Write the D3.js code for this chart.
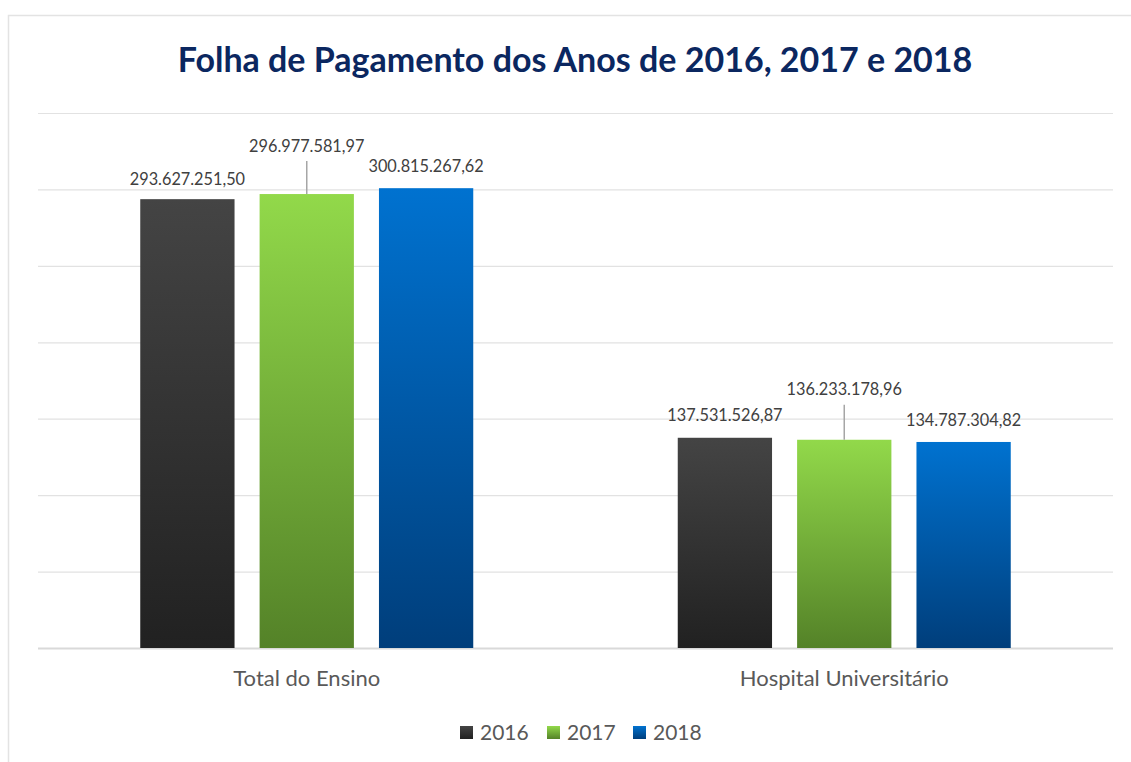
<!DOCTYPE html>
<html>
<head>
<meta charset="utf-8">
<script src="https://cdn.jsdelivr.net/npm/d3@7"></script>
<style>
  body { margin: 0; background: #fff; }
  svg { display: block; font-family: Lato, "Noto Sans", sans-serif; }
</style>
</head>
<body>
<div id="chart"></div>
<script>
const categories = ['Total do Ensino', 'Hospital Universitário'];
const years = ['2016', '2017', '2018'];
const values2016 = [293627251.50, 137531526.87];
const values2017 = [296977581.97, 136233178.96];
const values2018 = [300815267.62, 134787304.82];
const yTicks = [0, 50e6, 100e6, 150e6, 200e6, 250e6, 300e6, 350e6];
// label placement offsets (px above bar top); 2017 labels pulled up with a leader line
const labelLift = [[20, 48, 22], [22, 50, 22]];

const seriesValues = [values2016, values2017, values2018];
const colors = [
  { top: '#444444', bottom: '#212121' },
  { top: '#92d94a', bottom: '#548228' },
  { top: '#0072d0', bottom: '#003e7b' },
];

const width = 1131;
const height = 762;
const margin = { top: 113, right: 18, bottom: 114, left: 38 };
const innerW = width - margin.left - margin.right;
const innerH = height - margin.top - margin.bottom;

const fmt = (v) => {
  const [i, d] = v.toFixed(2).split('.');
  return `${i.replace(/\B(?=(\d{3})+(?!\d))/g, '.')},${d}`;
};

const svg = d3.select('#chart')
  .append('svg')
  .attr('width', width)
  .attr('height', height);

const defs = svg.append('defs');
colors.forEach((c, i) => {
  const g = defs.append('linearGradient')
    .attr('id', `grad-${i}`)
    .attr('x1', 0).attr('y1', 0).attr('x2', 0).attr('y2', 1);
  g.append('stop').attr('offset', '0%').attr('stop-color', c.top);
  g.append('stop').attr('offset', '100%').attr('stop-color', c.bottom);
});

// chart area border (cropped at right/bottom)
svg.append('rect')
  .attr('x', 8.5).attr('y', 15.5)
  .attr('width', 1300).attr('height', 900)
  .attr('fill', 'none')
  .attr('stroke', '#e3e3e3')
  .attr('stroke-width', 1.5);

svg.append('text')
  .attr('x', 575)
  .attr('y', 72)
  .attr('text-anchor', 'middle')
  .attr('font-size', '34px')
  .attr('font-weight', 700)
  .attr('fill', '#0b2760')
  .text('Folha de Pagamento dos Anos de 2016, 2017 e 2018');

const chart = svg.append('g')
  .attr('transform', `translate(${margin.left},${margin.top})`);

const x0 = d3.scaleBand().domain(categories).range([0, innerW]);
const groupW = 333;
const x1 = d3.scaleBand().domain(years).range([0, groupW])
  .paddingInner(0.21).paddingOuter(0);
const y = d3.scaleLinear().domain([0, 350e6]).range([innerH, 0]);

chart.append('g')
  .attr('class', 'grid')
  .call(d3.axisLeft(y).tickValues(yTicks).tickSize(-innerW).tickFormat(''))
  .call((g) => g.select('.domain').remove())
  .call((g) => g.selectAll('line')
    .attr('stroke', (d) => (d === 0 ? '#d9d9d9' : '#e2e2e2'))
    .attr('stroke-width', (d) => (d === 0 ? 2 : 1.2)));

const groups = chart.selectAll('.cat')
  .data(categories)
  .join('g')
  .attr('class', 'cat')
  .attr('transform', (d) => `translate(${x0(d) + (x0.bandwidth() - groupW) / 2},0)`);

groups.selectAll('rect')
  .data((d, ci) => years.map((yr, si) => ({ yr, si, ci, v: seriesValues[si][ci] })))
  .join('rect')
  .attr('x', (d) => x1(d.yr))
  .attr('y', (d) => y(d.v))
  .attr('width', x1.bandwidth())
  .attr('height', (d) => innerH - y(d.v))
  .attr('fill', (d) => `url(#grad-${d.si})`);

groups.selectAll('line.leader')
  .data((d, ci) => [{ ci, si: 1, v: seriesValues[1][ci] }])
  .join('line')
  .attr('class', 'leader')
  .attr('x1', (d) => x1(years[d.si]) + x1.bandwidth() / 2)
  .attr('x2', (d) => x1(years[d.si]) + x1.bandwidth() / 2)
  .attr('y1', (d) => y(d.v))
  .attr('y2', (d) => y(d.v) - labelLift[d.ci][d.si] + 15)
  .attr('stroke', '#a6a6a6')
  .attr('stroke-width', 1.5);

groups.selectAll('text.val')
  .data((d, ci) => years.map((yr, si) => ({ yr, si, ci, v: seriesValues[si][ci] })))
  .join('text')
  .attr('class', 'val')
  .attr('x', (d) => x1(d.yr) + x1.bandwidth() / 2)
  .attr('y', (d) => y(d.v) - labelLift[d.ci][d.si])
  .attr('dy', '0.35em')
  .attr('text-anchor', 'middle')
  .attr('font-size', '16.3px')
  .attr('fill', '#404040')
  .text((d) => fmt(d.v));

chart.append('g')
  .attr('transform', `translate(0,${innerH})`)
  .call(d3.axisBottom(x0).tickSize(0).tickPadding(22))
  .call((g) => g.select('.domain').remove())
  .call((g) => g.selectAll('text')
    .attr('font-size', '22px')
    .attr('font-family', 'Lato, "Noto Sans", sans-serif')
    .attr('fill', '#595959'));

const legend = svg.append('g').attr('transform', 'translate(460,733)');
const legendStep = [0, 87, 173];
years.forEach((yr, i) => {
  const item = legend.append('g').attr('transform', `translate(${legendStep[i]},0)`);
  item.append('rect')
    .attr('x', 0).attr('y', -7)
    .attr('width', 13).attr('height', 13)
    .attr('fill', `url(#grad-${i})`);
  item.append('text')
    .attr('x', 20)
    .attr('y', 0)
    .attr('dy', '0.35em')
    .attr('font-size', '21px')
    .attr('fill', '#595959')
    .text(yr);
});
</script>
</body>
</html>
